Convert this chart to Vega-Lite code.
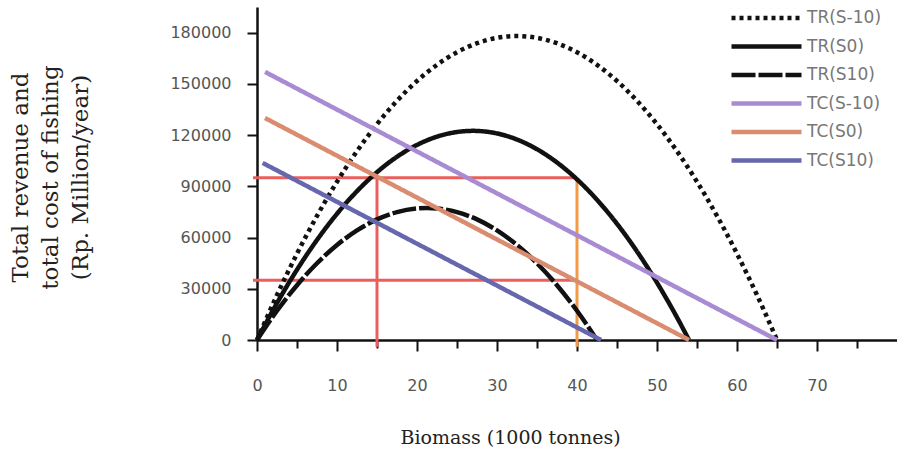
{
  "$schema": "https://vega.github.io/schema/vega-lite/v6.json",
  "autosize": "none",
  "width": 640,
  "height": 333,
  "padding": {"left": 257, "top": 7, "right": 0, "bottom": 114},
  "background": "white",
  "config": {"view": {"stroke": null}},
  "datasets": {
    "curves": [
      {"series": "TR(S-10)", "biomass": 0, "value": 0},
      {"series": "TR(S-10)", "biomass": 2.5, "value": 26331},
      {"series": "TR(S-10)", "biomass": 5, "value": 50556},
      {"series": "TR(S-10)", "biomass": 7.5, "value": 72674},
      {"series": "TR(S-10)", "biomass": 10, "value": 92686},
      {"series": "TR(S-10)", "biomass": 12.5, "value": 110591},
      {"series": "TR(S-10)", "biomass": 15, "value": 126390},
      {"series": "TR(S-10)", "biomass": 17.5, "value": 140082},
      {"series": "TR(S-10)", "biomass": 20, "value": 151668},
      {"series": "TR(S-10)", "biomass": 22.5, "value": 161147},
      {"series": "TR(S-10)", "biomass": 25, "value": 168520},
      {"series": "TR(S-10)", "biomass": 27.5, "value": 173786},
      {"series": "TR(S-10)", "biomass": 30, "value": 176946},
      {"series": "TR(S-10)", "biomass": 32.5, "value": 178000},
      {"series": "TR(S-10)", "biomass": 35, "value": 176946},
      {"series": "TR(S-10)", "biomass": 37.5, "value": 173786},
      {"series": "TR(S-10)", "biomass": 40, "value": 168520},
      {"series": "TR(S-10)", "biomass": 42.5, "value": 161147},
      {"series": "TR(S-10)", "biomass": 45, "value": 151668},
      {"series": "TR(S-10)", "biomass": 47.5, "value": 140082},
      {"series": "TR(S-10)", "biomass": 50, "value": 126390},
      {"series": "TR(S-10)", "biomass": 52.5, "value": 110591},
      {"series": "TR(S-10)", "biomass": 55, "value": 92686},
      {"series": "TR(S-10)", "biomass": 57.5, "value": 72674},
      {"series": "TR(S-10)", "biomass": 60, "value": 50556},
      {"series": "TR(S-10)", "biomass": 62.5, "value": 26331},
      {"series": "TR(S-10)", "biomass": 65, "value": 0},

      {"series": "TR(S0)", "biomass": 0, "value": 0},
      {"series": "TR(S0)", "biomass": 2.5, "value": 21630},
      {"series": "TR(S0)", "biomass": 5, "value": 41160},
      {"series": "TR(S0)", "biomass": 7.5, "value": 58590},
      {"series": "TR(S0)", "biomass": 10, "value": 73920},
      {"series": "TR(S0)", "biomass": 12.5, "value": 87150},
      {"series": "TR(S0)", "biomass": 15, "value": 98280},
      {"series": "TR(S0)", "biomass": 17.5, "value": 107310},
      {"series": "TR(S0)", "biomass": 20, "value": 114240},
      {"series": "TR(S0)", "biomass": 22.5, "value": 119070},
      {"series": "TR(S0)", "biomass": 25, "value": 121800},
      {"series": "TR(S0)", "biomass": 27, "value": 122472},
      {"series": "TR(S0)", "biomass": 30, "value": 120960},
      {"series": "TR(S0)", "biomass": 32.5, "value": 117390},
      {"series": "TR(S0)", "biomass": 35, "value": 111720},
      {"series": "TR(S0)", "biomass": 37.5, "value": 103950},
      {"series": "TR(S0)", "biomass": 40, "value": 94080},
      {"series": "TR(S0)", "biomass": 42.5, "value": 82110},
      {"series": "TR(S0)", "biomass": 45, "value": 68040},
      {"series": "TR(S0)", "biomass": 47.5, "value": 51870},
      {"series": "TR(S0)", "biomass": 50, "value": 33600},
      {"series": "TR(S0)", "biomass": 52.5, "value": 13230},
      {"series": "TR(S0)", "biomass": 54, "value": 0},

      {"series": "TR(S10)", "biomass": 0, "value": 0},
      {"series": "TR(S10)", "biomass": 2.5, "value": 17120},
      {"series": "TR(S10)", "biomass": 5, "value": 32100},
      {"series": "TR(S10)", "biomass": 7.5, "value": 44940},
      {"series": "TR(S10)", "biomass": 10, "value": 55640},
      {"series": "TR(S10)", "biomass": 12.5, "value": 64200},
      {"series": "TR(S10)", "biomass": 15, "value": 70620},
      {"series": "TR(S10)", "biomass": 17.5, "value": 74900},
      {"series": "TR(S10)", "biomass": 20, "value": 77040},
      {"series": "TR(S10)", "biomass": 21.25, "value": 77307},
      {"series": "TR(S10)", "biomass": 22.5, "value": 77040},
      {"series": "TR(S10)", "biomass": 25, "value": 74900},
      {"series": "TR(S10)", "biomass": 27.5, "value": 70620},
      {"series": "TR(S10)", "biomass": 30, "value": 64200},
      {"series": "TR(S10)", "biomass": 32.5, "value": 55640},
      {"series": "TR(S10)", "biomass": 35, "value": 44940},
      {"series": "TR(S10)", "biomass": 37.5, "value": 32100},
      {"series": "TR(S10)", "biomass": 40, "value": 17120},
      {"series": "TR(S10)", "biomass": 42.5, "value": 0},

      {"series": "TC(S-10)", "biomass": 1, "value": 157000},
      {"series": "TC(S-10)", "biomass": 65, "value": 0},
      {"series": "TC(S0)", "biomass": 1, "value": 130000},
      {"series": "TC(S0)", "biomass": 54, "value": 0},
      {"series": "TC(S10)", "biomass": 0.7, "value": 103700},
      {"series": "TC(S10)", "biomass": 43, "value": 0}
    ],
    "guides": [
      {"name": "upper level", "x": -0.5, "x2": 40, "y": 95000, "y2": 95000},
      {"name": "lower level", "x": -0.5, "x2": 40, "y": 35000, "y2": 35000},
      {"name": "B15", "x": 15, "x2": 15, "y": -4000, "y2": 95000},
      {"name": "B40", "x": 40, "x2": 40, "y": -4000, "y2": 95000}
    ]
  },
  "layer": [
    {
      "data": {"name": "guides"},
      "transform": [{"filter": "datum.name !== 'B40'"}],
      "mark": {"type": "rule", "color": "#ea5f5c", "strokeWidth": 3},
      "encoding": {
        "x": {"field": "x", "type": "quantitative"},
        "x2": {"field": "x2"},
        "y": {"field": "y", "type": "quantitative"},
        "y2": {"field": "y2"}
      }
    },
    {
      "data": {"name": "guides"},
      "transform": [{"filter": "datum.name === 'B40'"}],
      "mark": {"type": "rule", "color": "#f29a48", "strokeWidth": 3},
      "encoding": {
        "x": {"field": "x", "type": "quantitative"},
        "x2": {"field": "x2"},
        "y": {"field": "y", "type": "quantitative"},
        "y2": {"field": "y2"}
      }
    },
    {
      "data": {"name": "curves"},
      "mark": {"type": "line", "interpolate": "monotone"},
      "encoding": {
        "x": {
          "field": "biomass", "type": "quantitative",
          "scale": {"domain": [0, 80], "nice": false, "zero": false},
          "axis": {
            "title": "Biomass (1000 tonnes)",
            "values": [0, 5, 10, 15, 20, 25, 30, 35, 40, 45, 50, 55, 60, 65, 70, 75],
            "labelExpr": "datum.value % 10 === 0 ? datum.label : ''",
            "grid": false,
            "domainColor": "#111", "domainWidth": 2.5,
            "tickColor": "#111", "tickWidth": 2,
            "tickSize": {"condition": {"test": "datum.value % 10 === 0", "value": 11}, "value": 8},
            "labelPadding": 26,
            "labelFont": "DejaVu Sans", "labelFontSize": 16, "labelColor": "#555",
            "labelOverlap": false, "labelFlush": false,
            "titleFont": "DejaVu Serif", "titleFontSize": 19, "titleFontWeight": "normal", "titleColor": "#222",
            "titleX": 253, "titleY": 97, "titleAlign": "center", "titleBaseline": "middle"
          }
        },
        "y": {
          "field": "value", "type": "quantitative",
          "scale": {"domain": [0, 195000], "nice": false},
          "axis": {
            "title": ["Total revenue and", "total cost of fishing", "(Rp. Million/year)"],
            "values": [0, 15000, 30000, 45000, 60000, 75000, 90000, 105000, 120000, 135000, 150000, 165000, 180000, 195000],
            "format": "d",
            "labelExpr": "datum.value % 30000 === 0 && datum.value < 190000 ? datum.label : ''",
            "grid": false,
            "domainColor": "#111", "domainWidth": 2.5,
            "tickColor": "#111", "tickWidth": 2,
            "tickSize": {"condition": {"test": "datum.value % 30000 === 0", "value": 10}, "value": 7},
            "labelPadding": 16,
            "labelFont": "DejaVu Sans", "labelFontSize": 16, "labelColor": "#555",
            "labelOverlap": false, "labelFlush": false,
            "titleFont": "DejaVu Serif", "titleFontSize": 23, "titleFontWeight": "normal", "titleColor": "#222",
            "titleLineHeight": 30, "titleAngle": 270,
            "titleX": -237, "titleY": 170, "titleAlign": "center", "titleBaseline": "middle"
          }
        },
        "color": {
          "field": "series", "type": "nominal",
          "scale": {
            "domain": ["TR(S-10)", "TR(S0)", "TR(S10)", "TC(S-10)", "TC(S0)", "TC(S10)"],
            "range": ["#111111", "#111111", "#111111", "#a98bd3", "#d98c6f", "#6767ad"]
          },
          "legend": {
            "title": null,
            "orient": "none", "legendX": 472, "legendY": 0,
            "symbolType": "stroke", "symbolSize": 4900,
            "clipHeight": 22, "rowPadding": 6.5,
            "labelFont": "DejaVu Sans", "labelFontSize": 17, "labelColor": "#777",
            "labelOffset": 3
          }
        },
        "strokeDash": {
          "field": "series", "type": "nominal",
          "scale": {
            "domain": ["TR(S-10)", "TR(S0)", "TR(S10)", "TC(S-10)", "TC(S0)", "TC(S10)"],
            "range": [[4, 4], [1, 0], [24, 3], [1, 0], [1, 0], [1, 0]]
          }
        },
        "strokeWidth": {
          "field": "series", "type": "nominal",
          "scale": {
            "domain": ["TR(S-10)", "TR(S0)", "TR(S10)", "TC(S-10)", "TC(S0)", "TC(S10)"],
            "range": [4.5, 4.5, 2, 6, 3, 5]
          }
        }
      }
    }
  ]
}
